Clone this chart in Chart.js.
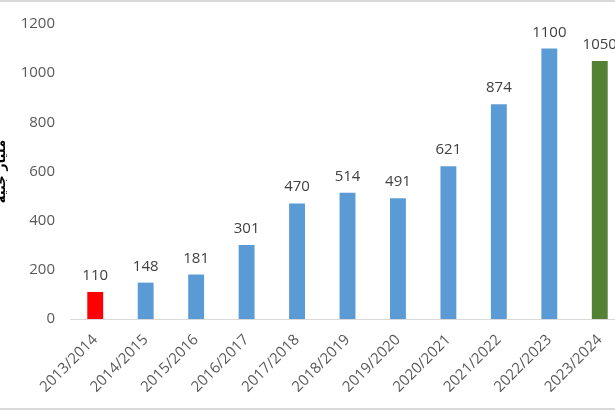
<!DOCTYPE html>
<html>
<head>
<meta charset="utf-8">
<script src="https://cdn.jsdelivr.net/npm/chart.js@4.4.1/dist/chart.umd.min.js"></script>
<style>
  html, body { margin: 0; padding: 0; background: #fff; overflow: hidden; }
  #frame {
    position: relative; width: 615px; height: 410px; overflow: hidden;
    box-sizing: border-box; border-top: 2px solid #d9d9d9; border-bottom: 2px solid #d9d9d9;
  }
  #wrap { position: absolute; left: -12px; top: -2px; width: 637px; height: 409px; }
</style>
</head>
<body>
<div id="frame">
  <div id="wrap"><canvas id="budgetChart"></canvas></div>
</div>
<script>
// fiscal years and values (billion EGP)
const years = ["2013/2014", "2014/2015", "2015/2016", "2016/2017", "2017/2018", "2018/2019",
  "2019/2020", "2020/2021", "2021/2022", "2022/2023", "2023/2024"];
const values = [110, 148, 181, 301, 470, 514, 491, 621, 874, 1100, 1050];
const yTicks = [0, 200, 400, 600, 800, 1000, 1200];
const axisTitle = "مليار جنيه";

const barColors = values.map((v, i) => {
  if (i === 0) return "#ff0000";
  if (i === values.length - 1) return "#548235";
  return "#5b9bd5";
});

// value labels above each bar
const barLabels = {
  id: "barLabels",
  afterDatasetsDraw(chart) {
    const ctx = chart.ctx;
    const meta = chart.getDatasetMeta(0);
    ctx.save();
    ctx.font = "15px 'Open Sans', sans-serif";
    ctx.fillStyle = "#404040";
    ctx.textAlign = "center";
    ctx.textBaseline = "alphabetic";
    meta.data.forEach((bar, i) => {
      ctx.fillText(String(values[i]), bar.x, bar.y - 12);
    });
    ctx.restore();
  },
};

const ctx = document.getElementById("budgetChart");
new Chart(ctx, {
  type: "bar",
  data: {
    labels: years,
    datasets: [
      {
        data: values,
        backgroundColor: barColors,
        borderWidth: 0,
        barPercentage: 0.63,
        categoryPercentage: 0.5,
      },
    ],
  },
  options: {
    responsive: true,
    maintainAspectRatio: false,
    animation: false,
    layout: {
      padding: { top: 24, right: 0, bottom: 0, left: 0 },
    },
    plugins: {
      legend: { display: false },
      tooltip: { enabled: false },
    },
    scales: {
      x: {
        grid: { display: false, drawTicks: false },
        border: { display: true, color: "#d9d9d9", width: 1 },
        ticks: {
          color: "#595959",
          font: { family: "'Open Sans', sans-serif", size: 15 },
          minRotation: 45,
          maxRotation: 45,
          padding: 12,
        },
        afterFit: (axis) => {
          axis.height = 90;
        },
      },
      y: {
        min: 0,
        max: 1200,
        grid: { display: false, drawTicks: false },
        border: { display: false },
        afterBuildTicks: (axis) => {
          axis.ticks = yTicks.map((v) => ({ value: v }));
        },
        ticks: {
          color: "#595959",
          font: { family: "'Open Sans', sans-serif", size: 15 },
          padding: 15,
          callback: (v) => String(v),
        },
        title: {
          display: true,
          text: axisTitle,
          color: "#000000",
          font: { family: "'DejaVu Sans', sans-serif", size: 13, weight: "bold" },
          padding: { top: 6, bottom: 0 },
        },
        afterFit: (axis) => {
          axis.width = 82;
        },
      },
    },
  },
  plugins: [barLabels],
});
</script>
</body>
</html>
